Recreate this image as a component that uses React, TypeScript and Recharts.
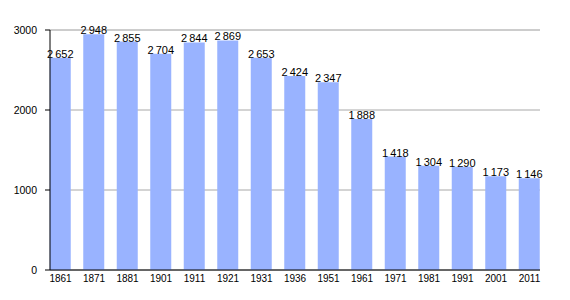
import {
  BarChart,
  Bar,
  XAxis,
  YAxis,
  CartesianGrid,
  LabelList,
} from "recharts";

const years = ["1861", "1871", "1881", "1901", "1911", "1921", "1931", "1936", "1951", "1961", "1971", "1981", "1991", "2001", "2011"];
const population = [2652, 2948, 2855, 2704, 2844, 2869, 2653, 2424, 2347, 1888, 1418, 1304, 1290, 1173, 1146];
const majorTicks = [0, 1000, 2000, 3000];
const minorTicks = [0, 200, 400, 600, 800, 1000, 1200, 1400, 1600, 1800, 2000, 2200, 2400, 2600, 2800, 3000];

const data = years.map((year, i) => ({ year, value: population[i] }));

const FONT = '"Liberation Sans", Arial, sans-serif';

// séparateur de milliers à la française : "2 652"
const fmt = (v: number) => {
  const s = String(v);
  return s.length > 3 ? s.slice(0, -3) + "\u2009" + s.slice(-3) : s;
};

export default function App() {
  return (
    <div style={{ position: "absolute", left: 0, top: 0, fontFamily: FONT }}>
      <BarChart
        width={570}
        height={300}
        data={data}
        margin={{ top: 30, right: 30, bottom: 0, left: 0 }}
        barSize={21}
      >
        <CartesianGrid yAxisId="minor" vertical={false} stroke="#e3e3e3" strokeWidth={1} />
        <CartesianGrid yAxisId="major" vertical={false} stroke="#a8a8a8" strokeWidth={1} />
        <XAxis
          dataKey="year"
          padding={{ left: -6.25, right: -6.25 }}
          height={30}
          tickLine={false}
          tickSize={3}
          axisLine={{ stroke: "#000" }}
          tick={{ fontSize: 10, fill: "#000", fontFamily: FONT }}
          interval={0}
        />
        <YAxis
          yAxisId="minor"
          width={0}
          domain={[0, 3000]}
          ticks={minorTicks}
          tick={false}
          tickSize={2}
          tickLine={{ stroke: "#000" }}
          axisLine={false}
        />
        <YAxis
          yAxisId="major"
          width={50}
          domain={[0, 3000]}
          ticks={majorTicks}
          tickSize={5}
          tickMargin={8}
          tickLine={{ stroke: "#000" }}
          axisLine={{ stroke: "#000" }}
          tick={{ fontSize: 10.5, fill: "#000", fontFamily: FONT }}
        />
        <Bar yAxisId="major" dataKey="value" fill="#99b3ff" isAnimationActive={false}>
          <LabelList
            dataKey="value"
            position="top"
            offset={0}
            formatter={(v: any) => fmt(Number(v))}
            style={{ fontSize: 11, fill: "#000", fontFamily: FONT }}
          />
        </Bar>
      </BarChart>
    </div>
  );
}
